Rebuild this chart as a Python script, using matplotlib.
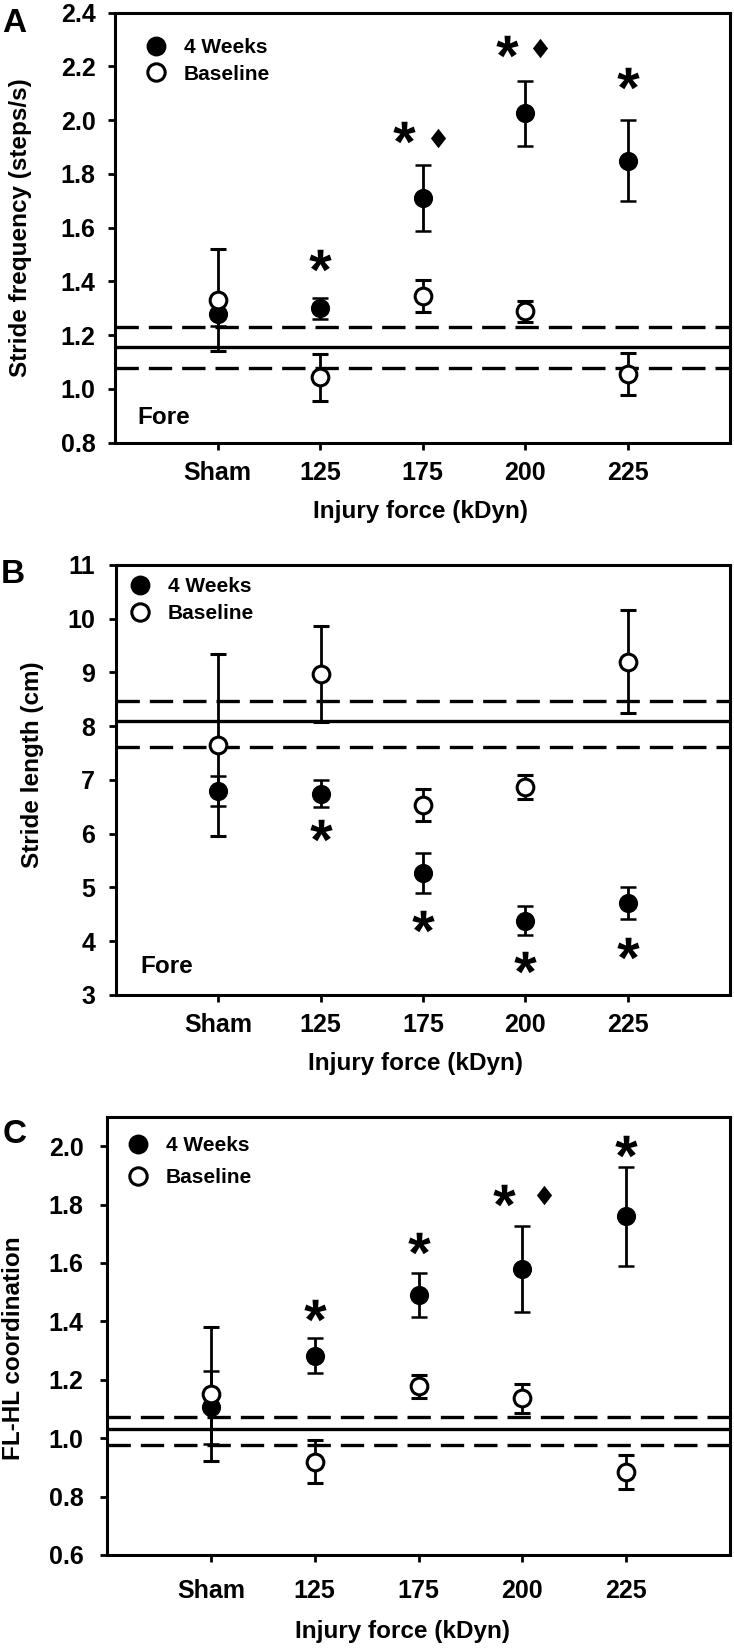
import numpy as np
import matplotlib
matplotlib.use("Agg")
from matplotlib import pyplot as plt
from matplotlib.lines import Line2D

plt.rcParams['font.family'] = ['Liberation Sans', 'DejaVu Sans']
plt.rcParams['font.weight'] = 'bold'
plt.rcParams['mathtext.fontset'] = 'custom'
plt.rcParams['mathtext.rm'] = 'Liberation Sans:normal'

groups = ['Sham', '125', '175', '200', '225']

# A: stride frequency (steps/s)
freq_4wk = [1.28, 1.30, 1.71, 2.025, 1.85]
freq_4wk_err = [0.045, 0.04, 0.124, 0.122, 0.152]
freq_base = [1.33, 1.043, 1.345, 1.289, 1.056]
freq_base_err = [0.19, 0.086, 0.06, 0.04, 0.077]
freq_ref = [1.156, 1.077, 1.231]
freq_star = [None, 1.48, 1.955, 2.276, 2.158]
freq_diamond = [None, None, 1.934, 2.27, None]

# B: stride length (cm)
len_4wk = [6.795, 6.745, 5.27, 4.38, 4.71]
len_4wk_err = [0.28, 0.25, 0.37, 0.27, 0.30]
len_base = [7.65, 8.97, 6.53, 6.87, 9.2]
len_base_err = [1.69, 0.9, 0.3, 0.23, 0.96]
len_ref = [8.093, 7.615, 8.466]
len_star = [None, 6.06, 4.38, 3.62, 3.88]
len_diamond = [None, None, None, None, None]

# C: FL-HL coordination
coord_4wk = [1.105, 1.282, 1.491, 1.579, 1.76]
coord_4wk_err = [0.125, 0.06, 0.075, 0.147, 0.17]
coord_base = [1.151, 0.92, 1.177, 1.136, 0.885]
coord_base_err = [0.23, 0.072, 0.038, 0.05, 0.058]
coord_ref = [1.031, 0.976, 1.074]
coord_star = [None, 1.44, 1.669, 1.833, 2.0]
coord_diamond = [None, None, None, 1.832, None]

diamond = [(-0.39, 0), (0, 0.5), (0.39, 0), (0, -0.5), (-0.39, 0)]


def panel(ax, wk, wk_err, base, base_err, ref, star, dia, ylim, yticks, fmt,
          ylabel, ylab_xy, xlab_xy, leg_xy, leg_space, fore, xpad, ypad, dia_dx):
    x = np.arange(1, len(groups) + 1)
    ax.axhline(ref[0], color='k', lw=2.4, zorder=1)
    for r in ref[1:]:
        ax.axhline(r, color='k', lw=2.4, dashes=(7, 3), zorder=1)
    ax.errorbar(x, wk, yerr=wk_err, fmt='o', ms=12, mfc='k', mec='k', mew=1.8,
                ecolor='k', elinewidth=2, capsize=5.8, capthick=2, zorder=3)
    ax.errorbar(x, base, yerr=base_err, fmt='o', ms=12, mfc='white', mec='k',
                mew=2.2, ecolor='k', elinewidth=2, capsize=5.8, capthick=2, zorder=4)
    for i in range(len(groups)):
        if star[i] is None:
            continue
        dx = 0.0
        if dia[i] is not None:
            dx = -0.18
            ax.plot(x[i] + dia_dx, dia[i], marker=diamond, ms=14, mew=0,
                    color='k', ls='none')
        ax.plot(x[i] + dx, star[i], marker=r'$\mathregular{*}$', ms=16, mew=0,
                color='k', ls='none')
    ax.set_xlim(0, 6)
    ax.set_ylim(*ylim)
    ax.set_yticks(yticks)
    ax.set_yticklabels([fmt.format(v) for v in yticks])
    ax.set_xticks(x)
    ax.set_xticklabels(groups)
    for s in ax.spines.values():
        s.set_linewidth(2.2)
    ax.tick_params(axis='both', direction='out', length=5, width=2, labelsize=18)
    ax.tick_params(axis='x', pad=xpad)
    ax.tick_params(axis='y', pad=ypad)
    ax.set_ylabel(ylabel, fontsize=17.5, fontweight='bold')
    ax.yaxis.set_label_coords(*ylab_xy)
    ax.set_xlabel('Injury force (kDyn)', fontsize=17.5, fontweight='bold')
    ax.xaxis.set_label_coords(*xlab_xy)
    handles = [Line2D([], [], ls='none', marker='o', ms=12.5, mfc='k', mec='k', mew=1.8),
               Line2D([], [], ls='none', marker='o', ms=12.5, mfc='white', mec='k', mew=2.2)]
    ax.legend(handles, ['4 Weeks', 'Baseline'], loc='center left', bbox_to_anchor=leg_xy,
              frameon=False, fontsize=15, handlelength=1.0, handletextpad=0.85,
              borderpad=0, borderaxespad=0, labelspacing=leg_space)
    if fore:
        ax.text(fore[0], fore[1], 'Fore', transform=ax.transAxes, fontsize=17.5,
                fontweight='bold', va='baseline', ha='left')


fig = plt.figure(figsize=(7.34, 16.5), dpi=100)
axA = fig.add_axes([0.1567, 0.7317, 0.838, 0.2606])
axB = fig.add_axes([0.158, 0.397, 0.8365, 0.2606])
axC = fig.add_axes([0.1458, 0.0576, 0.8488, 0.2655])

panel(axA, freq_4wk, freq_4wk_err, freq_base, freq_base_err, freq_ref, freq_star,
      freq_diamond, (0.8, 2.4), np.round(np.arange(0.8, 2.41, 0.2), 1), '{:.1f}',
      'Stride frequency (steps/s)', (-0.135, 0.5), (0.496, -0.133), (0.049, 0.888),
      0.35, (0.037, 0.0435), 8, 9, 0.15)
panel(axB, len_4wk, len_4wk_err, len_base, len_base_err, len_ref, len_star,
      len_diamond, (3, 11), np.arange(3, 12), '{:d}',
      'Stride length (cm)', (-0.117, 0.535), (0.488, -0.1326), (0.022, 0.9186),
      0.4, (0.039, 0.052), 8, 10, 0.15)
panel(axC, coord_4wk, coord_4wk_err, coord_base, coord_base_err, coord_ref, coord_star,
      coord_diamond, (0.6, 2.1), np.round(np.arange(0.6, 2.01, 0.2), 1), '{:.1f}',
      'FL-HL coordination', (-0.132, 0.473), (0.475, -0.148), (0.033, 0.898),
      0.6, None, 12, 12, 0.21)

fig.text(2 / 734, 1 - 32 / 1650, 'A', fontsize=24, fontweight='bold', va='baseline')
fig.text(1 / 734, 1 - 583 / 1650, 'B', fontsize=24, fontweight='bold', va='baseline')
fig.text(3 / 734, 1 - 1143 / 1650, 'C', fontsize=24, fontweight='bold', va='baseline')

fig.savefig('out.png', dpi=100)
